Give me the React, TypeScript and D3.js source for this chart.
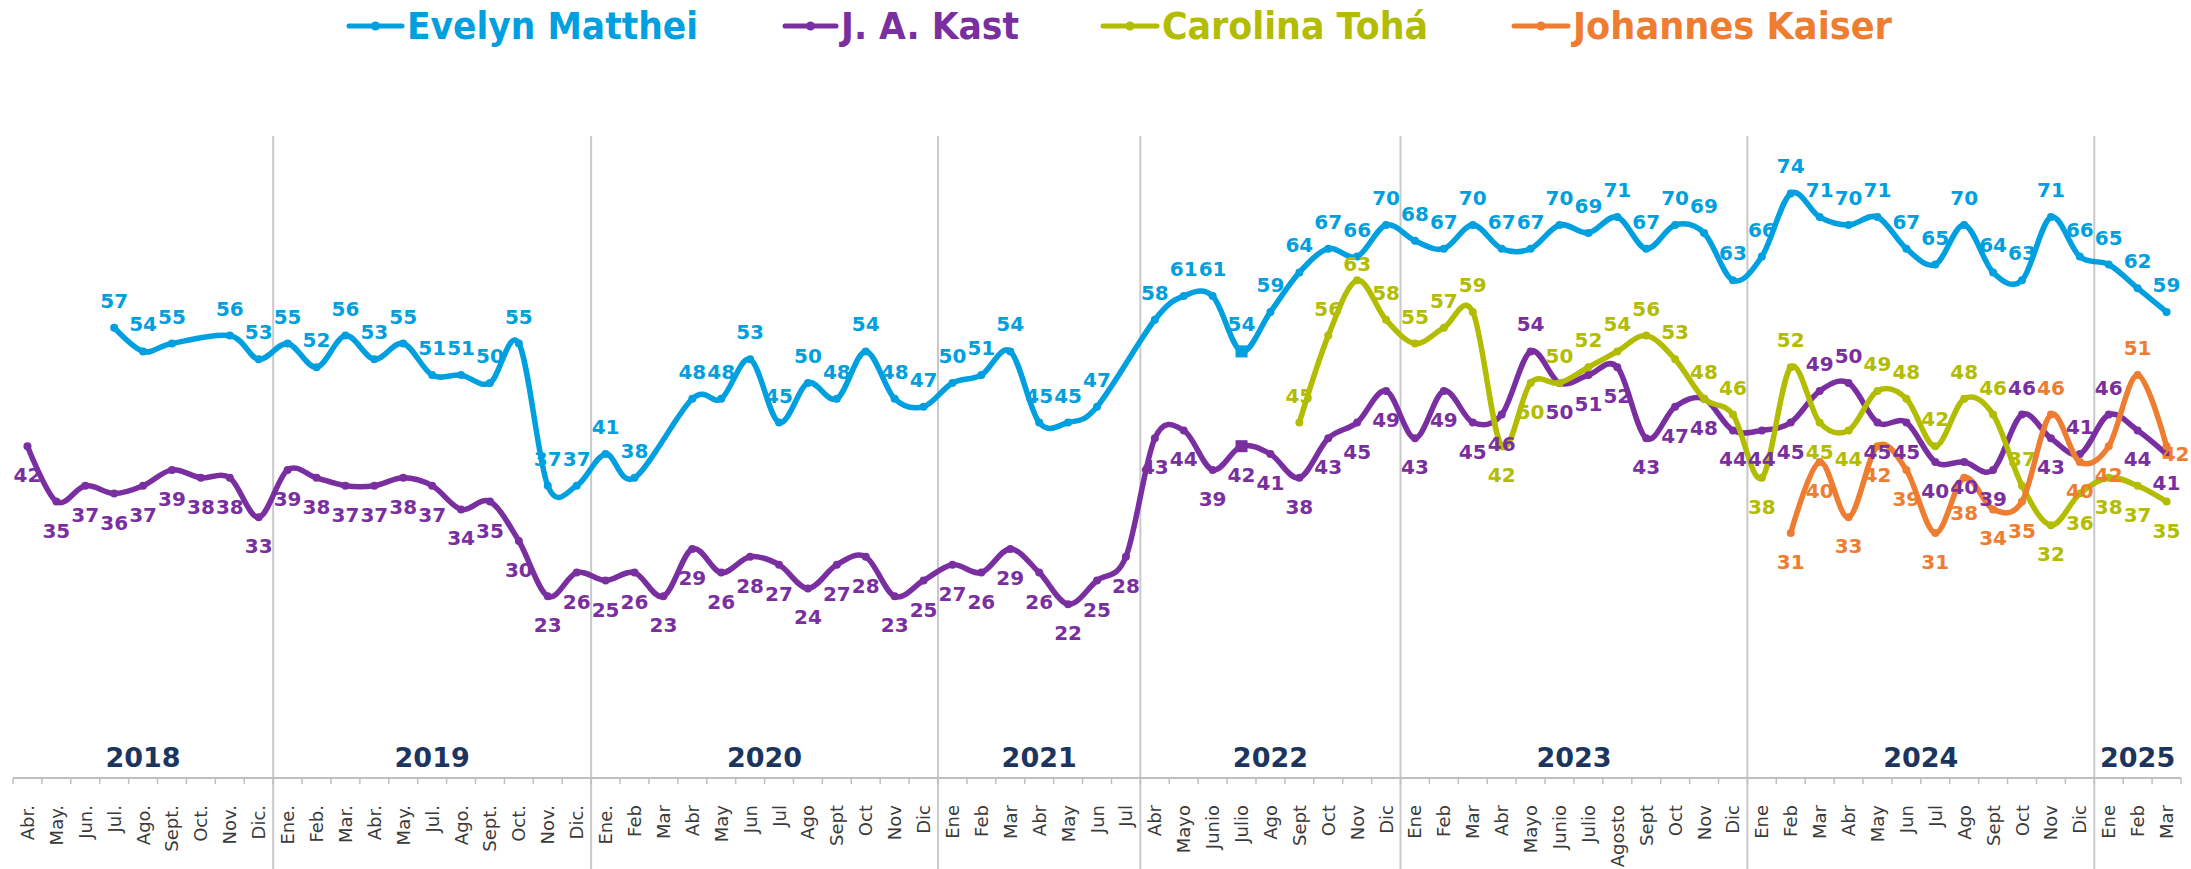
import React, { useEffect } from 'react';
import * as d3 from 'd3';

const W = 2191;
const H = 869;

const years = ['2018', '2019', '2020', '2021', '2022', '2023', '2024', '2025'];
const monthsByYear: string[][] = [
  ['Abr.', 'May.', 'Jun.', 'Jul.', 'Ago.', 'Sept.', 'Oct.', 'Nov.', 'Dic.'],
  ['Ene.', 'Feb.', 'Mar.', 'Abr.', 'May.', 'Jul.', 'Ago.', 'Sept.', 'Oct.', 'Nov.', 'Dic.'],
  ['Ene.', 'Feb', 'Mar', 'Abr', 'May', 'Jun', 'Jul', 'Ago', 'Sept', 'Oct', 'Nov', 'Dic'],
  ['Ene', 'Feb', 'Mar', 'Abr', 'May', 'Jun', 'Jul'],
  ['Abr', 'Mayo', 'Junio', 'Julio', 'Ago', 'Sept', 'Oct', 'Nov', 'Dic'],
  ['Ene', 'Feb', 'Mar', 'Abr', 'Mayo', 'Junio', 'Julio', 'Agosto', 'Sept', 'Oct', 'Nov', 'Dic'],
  ['Ene', 'Feb', 'Mar', 'Abr', 'May', 'Jun', 'Jul', 'Ago', 'Sept', 'Oct', 'Nov', 'Dic'],
  ['Ene', 'Feb', 'Mar'],
];

type V = number | null;

const matthei: V[] = [
  null, null, null, 57, 54, 55, null, 56, 53,
  55, 52, 56, 53, 55, 51, 51, 50, 55, 37, 37,
  41, 38, null, 48, 48, 53, 45, 50, 48, 54, 48, 47,
  50, 51, 54, 45, 45, 47, null,
  58, 61, 61, 54, 59, 64, 67, 66, 70,
  68, 67, 70, 67, 67, 70, 69, 71, 67, 70, 69, 63,
  66, 74, 71, 70, 71, 67, 65, 70, 64, 63, 71, 66,
  65, 62, 59,
];

const kast: V[] = [
  42, 35, 37, 36, 37, 39, 38, 38, 33,
  39, 38, 37, 37, 38, 37, 34, 35, 30, 23, 26,
  25, 26, 23, 29, 26, 28, 27, 24, 27, 28, 23, 25,
  27, 26, 29, 26, 22, 25, 28,
  43, 44, 39, 42, 41, 38, 43, 45, 49,
  43, 49, 45, 46, 54, 50, 51, 52, 43, 47, 48, 44,
  44, 45, 49, 50, 45, 45, 40, 40, 39, 46, 43, 41,
  46, 44, 41,
];

const toha: V[] = [
  null, null, null, null, null, null, null, null, null,
  null, null, null, null, null, null, null, null, null, null, null,
  null, null, null, null, null, null, null, null, null, null, null, null,
  null, null, null, null, null, null, null,
  null, null, null, null, null, 45, 56, 63, 58,
  55, 57, 59, 42, 50, 50, 52, 54, 56, 53, 48, 46,
  38, 52, 45, 44, 49, 48, 42, 48, 46, 37, 32, 36,
  38, 37, 35,
];

const kaiser: V[] = [
  null, null, null, null, null, null, null, null, null,
  null, null, null, null, null, null, null, null, null, null, null,
  null, null, null, null, null, null, null, null, null, null, null, null,
  null, null, null, null, null, null, null,
  null, null, null, null, null, null, null, null, null,
  null, null, null, null, null, null, null, null, null, null, null, null,
  null, 31, 40, 33, 42, 39, 31, 38, 34, 35, 46, 40,
  42, 51, 42,
];

// label placement exceptions (indices), default given per series
const kastAbove = [52, 62, 63, 69, 71, 72];
const kastTight = [67];
const tohaBelow = [51, 52, 60, 62, 63, 70, 71, 72, 73, 74];
const tohaNear = [46];
const kaiserAbove = [70, 73];
const kaiserLow = [67];
const kaiserRight = [74];
const squareIndex = 42;

const seriesNames = ['Evelyn Matthei', 'J. A. Kast', 'Carolina Tohá', 'Johannes Kaiser'];
const seriesColors = ['#009FE0', '#7A2FA1', '#B2BC00', '#EE7D31'];

export default function App() {
  useEffect(() => {
    document.body.style.margin = '0';
  }, []);

  const categories = monthsByYear.flat();
  const N = categories.length;
  const starts = [0, ...Array.from(d3.cumsum(monthsByYear.map((m) => m.length)))];

  const x = d3.scaleBand<number>().domain(d3.range(N)).range([13, 2181]).padding(0);
  const bw = x.bandwidth();
  const cx = (i: number) => (x(i) as number) + bw / 2;
  const y = d3.scaleLinear().domain([0, 80]).range([778, 778 - 80 * 7.9]);

  const lineGen = d3
    .line<[number, number]>()
    .x((d) => cx(d[0]))
    .y((d) => y(d[1]))
    .curve(d3.curveCatmullRom.alpha(0));

  const placeFor = (s: number, i: number): string => {
    if (s === 0) return 'a';
    if (s === 1) {
      if (kastTight.includes(i)) return 'bt';
      return kastAbove.includes(i) ? 'a' : 'b';
    }
    if (s === 2) {
      if (tohaNear.includes(i)) return 'n';
      return tohaBelow.includes(i) ? 'b' : 'a';
    }
    if (kaiserRight.includes(i)) return 'r';
    if (kaiserLow.includes(i)) return 'bl';
    return kaiserAbove.includes(i) ? 'a' : 'b';
  };

  const allSeries = [matthei, kast, toha, kaiser];

  const legendPos = [
    [349, 402, 407, 291],
    [785, 836, 841, 178],
    [1103, 1157, 1162, 266],
    [1514, 1568, 1573, 319],
  ];

  const dividerIdx = starts.slice(1, starts.length - 1);

  return (
    <svg
      width={W}
      height={H}
      viewBox={`0 0 ${W} ${H}`}
      style={{ position: 'absolute', left: 0, top: 0, display: 'block', background: '#fff' }}
    >
      <rect x={0} y={0} width={W} height={H} fill="#fff" />

      {/* legend */}
      {seriesNames.map((name, k) => {
        const [lx1, lx2, tx, tw] = legendPos[k];
        return (
          <g key={name}>
            <line x1={lx1} x2={lx2} y1={26} y2={26} stroke={seriesColors[k]} strokeWidth={5} strokeLinecap="round" />
            <circle cx={(lx1 + lx2) / 2} cy={26} r={4.5} fill={seriesColors[k]} />
            <text
              x={tx}
              y={39}
              fontFamily="DejaVu Sans"
              fontWeight="bold"
              fontSize={37}
              fill={seriesColors[k]}
              textLength={tw}
              lengthAdjust="spacingAndGlyphs"
            >
              {name}
            </text>
          </g>
        );
      })}

      {/* year dividers */}
      {dividerIdx.map((i) => (
        <line key={'d' + i} x1={x(i)} x2={x(i)} y1={136} y2={H} stroke="#C9C9C9" strokeWidth={2} />
      ))}

      {/* axis line and ticks */}
      <line x1={13} x2={2181} y1={778} y2={778} stroke="#BFBFBF" strokeWidth={2} />
      {d3.range(N + 1).map((i) => {
        const xx = 13 + i * bw;
        return <line key={'t' + i} x1={xx} x2={xx} y1={778} y2={784} stroke="#BFBFBF" strokeWidth={1.5} />;
      })}

      {/* month labels */}
      {categories.map((c, i) => (
        <text
          key={'m' + i}
          transform={`translate(${cx(i)},805) rotate(-90)`}
          textAnchor="end"
          dominantBaseline="central"
          fontFamily="DejaVu Sans"
          fontSize={18}
          fill="#3A3A3A"
        >
          {c}
        </text>
      ))}

      {/* year labels */}
      {years.map((yr, k) => {
        const mid = 13 + ((starts[k] + starts[k + 1]) / 2) * bw;
        return (
          <text
            key={yr}
            x={mid}
            y={757}
            textAnchor="middle"
            dominantBaseline="central"
            fontFamily="DejaVu Sans"
            fontWeight="bold"
            fontSize={27}
            fill="#1C355E"
          >
            {yr}
          </text>
        );
      })}

      {/* lines */}
      {allSeries.map((vals, s) => {
        const pts = vals
          .map((v, i) => [i, v] as [number, V])
          .filter((d) => d[1] !== null) as [number, number][];
        return (
          <g key={'s' + s}>
            <path d={lineGen(pts) || ''} fill="none" stroke={seriesColors[s]} strokeWidth={5.5} strokeLinejoin="round" />
            {pts.map(([i, v]) =>
              i === squareIndex && s < 2 ? (
                <rect key={i} x={cx(i) - 6} y={y(v) - 6} width={12} height={12} fill={seriesColors[s]} />
              ) : (
                <circle key={i} cx={cx(i)} cy={y(v)} r={4} fill={seriesColors[s]} />
              )
            )}
          </g>
        );
      })}

      {/* data labels */}
      {allSeries.map((vals, s) => (
        <g key={'l' + s}>
          {vals.map((v, i) => {
            if (v === null) return null;
            const p = placeFor(s, i);
            let lx = cx(i);
            let ly = y(v);
            let anchor = 'middle';
            if (p === 'a') ly -= 27;
            else if (p === 'n') ly -= 16;
            else if (p === 'b') ly += 29;
            else if (p === 'bt') ly += 25;
            else if (p === 'bl') ly += 35;
            else {
              lx += 23;
              ly += 8;
              anchor = 'end';
            }
            return (
              <text
                key={i}
                x={lx}
                y={ly}
                textAnchor={anchor}
                dominantBaseline="central"
                fontFamily="DejaVu Sans"
                fontWeight="bold"
                fontSize={20}
                fill={seriesColors[s]}
              >
                {v}
              </text>
            );
          })}
        </g>
      ))}
    </svg>
  );
}
